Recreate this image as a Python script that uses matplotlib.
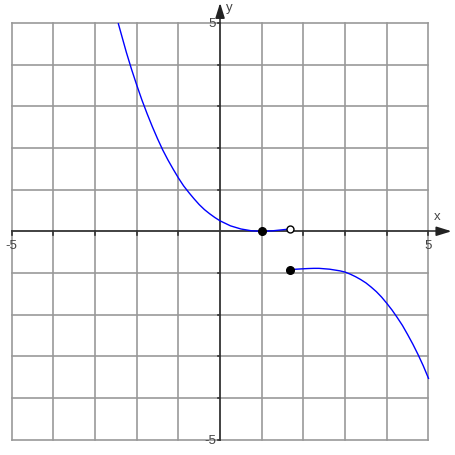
import matplotlib
matplotlib.use("Agg")
import matplotlib.pyplot as plt

# curve left of the jump
x1 = [-2.44, -2.25, -2.125, -2.0, -1.875, -1.75, -1.625, -1.5, -1.375,
      -1.25, -1.125, -1.0, -0.875, -0.75, -0.625, -0.5, -0.375, -0.25,
      -0.125, 0.0, 0.25, 0.5, 0.75, 1.0, 1.25, 1.5, 1.667]
y1 = [4.98, 4.30, 3.89, 3.51, 3.15, 2.82, 2.51, 2.22, 1.95,
      1.71, 1.49, 1.28, 1.09, 0.93, 0.78, 0.64, 0.52, 0.42,
      0.33, 0.25, 0.13, 0.055, 0.012, 0.0, 0.01, 0.036, 0.055]

# curve right of the jump
x2 = [1.667, 2.0, 2.125, 2.25, 2.375, 2.5, 2.625, 2.75, 2.875, 3.0,
      3.125, 3.25, 3.375, 3.5, 3.625, 3.75, 3.875, 4.0, 4.125, 4.25,
      4.375, 4.5, 4.625, 4.75, 4.875, 5.0]
y2 = [-0.92, -0.90, -0.894, -0.89, -0.89, -0.90, -0.91, -0.93, -0.95, -0.98,
      -1.03, -1.09, -1.16, -1.24, -1.34, -1.45, -1.58, -1.73, -1.89, -2.07,
      -2.26, -2.48, -2.71, -2.96, -3.23, -3.53]

filled_pts = [(1.0, 0.0), (1.667, -0.92)]
open_pts = [(1.667, 0.055)]

grid_vals = list(range(-5, 6))

plt.rcParams["font.family"] = ["Liberation Sans", "DejaVu Sans"]

fig = plt.figure(figsize=(4.56, 4.56), dpi=100)
ax = fig.add_axes([0, 0, 1, 1])
ax.set_xlim(-5.28, 5.66)
ax.set_ylim(-5.37, 5.575)
ax.axis("off")

# grid
for g in grid_vals:
    ax.plot([g, g], [-5, 5], color="#999999", lw=1.2, zorder=1)
    ax.plot([-5, 5], [g, g], color="#999999", lw=1.2, zorder=1)

# axes with arrows
ax.plot([-5, 5.45], [0, 0], color="#333333", lw=1.2, zorder=2)
ax.plot([0, 0], [-5, 5.35], color="#333333", lw=1.2, zorder=2)
ax.annotate("", xy=(5.62, 0), xytext=(5.3, 0),
            arrowprops=dict(arrowstyle="-|>,head_length=0.9,head_width=0.28",
                            color="#222222", lw=1.2), zorder=3)
ax.annotate("", xy=(0, 5.55), xytext=(0, 5.2),
            arrowprops=dict(arrowstyle="-|>,head_length=0.9,head_width=0.28",
                            color="#222222", lw=1.2), zorder=3)

# small tick marks
for g in grid_vals:
    if g == 0:
        continue
    ax.plot([g, g], [0, -0.08], color="#333333", lw=1.2, zorder=2)
    ax.plot([0, -0.06], [g, g], color="#333333", lw=1.2, zorder=2)

# labels
ax.text(-5, -0.33, "-5", ha="center", va="center", fontsize=9.5, color="#444444")
ax.text(5, -0.33, "5", ha="center", va="center", fontsize=9.5, color="#444444")
ax.text(-0.1, 5, "5", ha="right", va="center", fontsize=9.5, color="#444444")
ax.text(-0.1, -5, "-5", ha="right", va="center", fontsize=9.5, color="#444444")
ax.text(5.21, 0.37, "x", ha="center", va="center", fontsize=9.5, color="#444444")
ax.text(0.22, 5.38, "y", ha="center", va="center", fontsize=9.5, color="#444444")

# curves
ax.plot(x1, y1, color="#0000ff", lw=1.0, zorder=4)
ax.plot(x2, y2, color="#0000ff", lw=1.0, zorder=4)

for px, py in filled_pts:
    ax.plot(px, py, "o", color="black", markersize=5.5, zorder=5)
for px, py in open_pts:
    ax.plot(px, py, "o", markerfacecolor="white", markeredgecolor="black",
            markersize=5, markeredgewidth=1.0, zorder=5)

fig.savefig("out.png", dpi=100)
